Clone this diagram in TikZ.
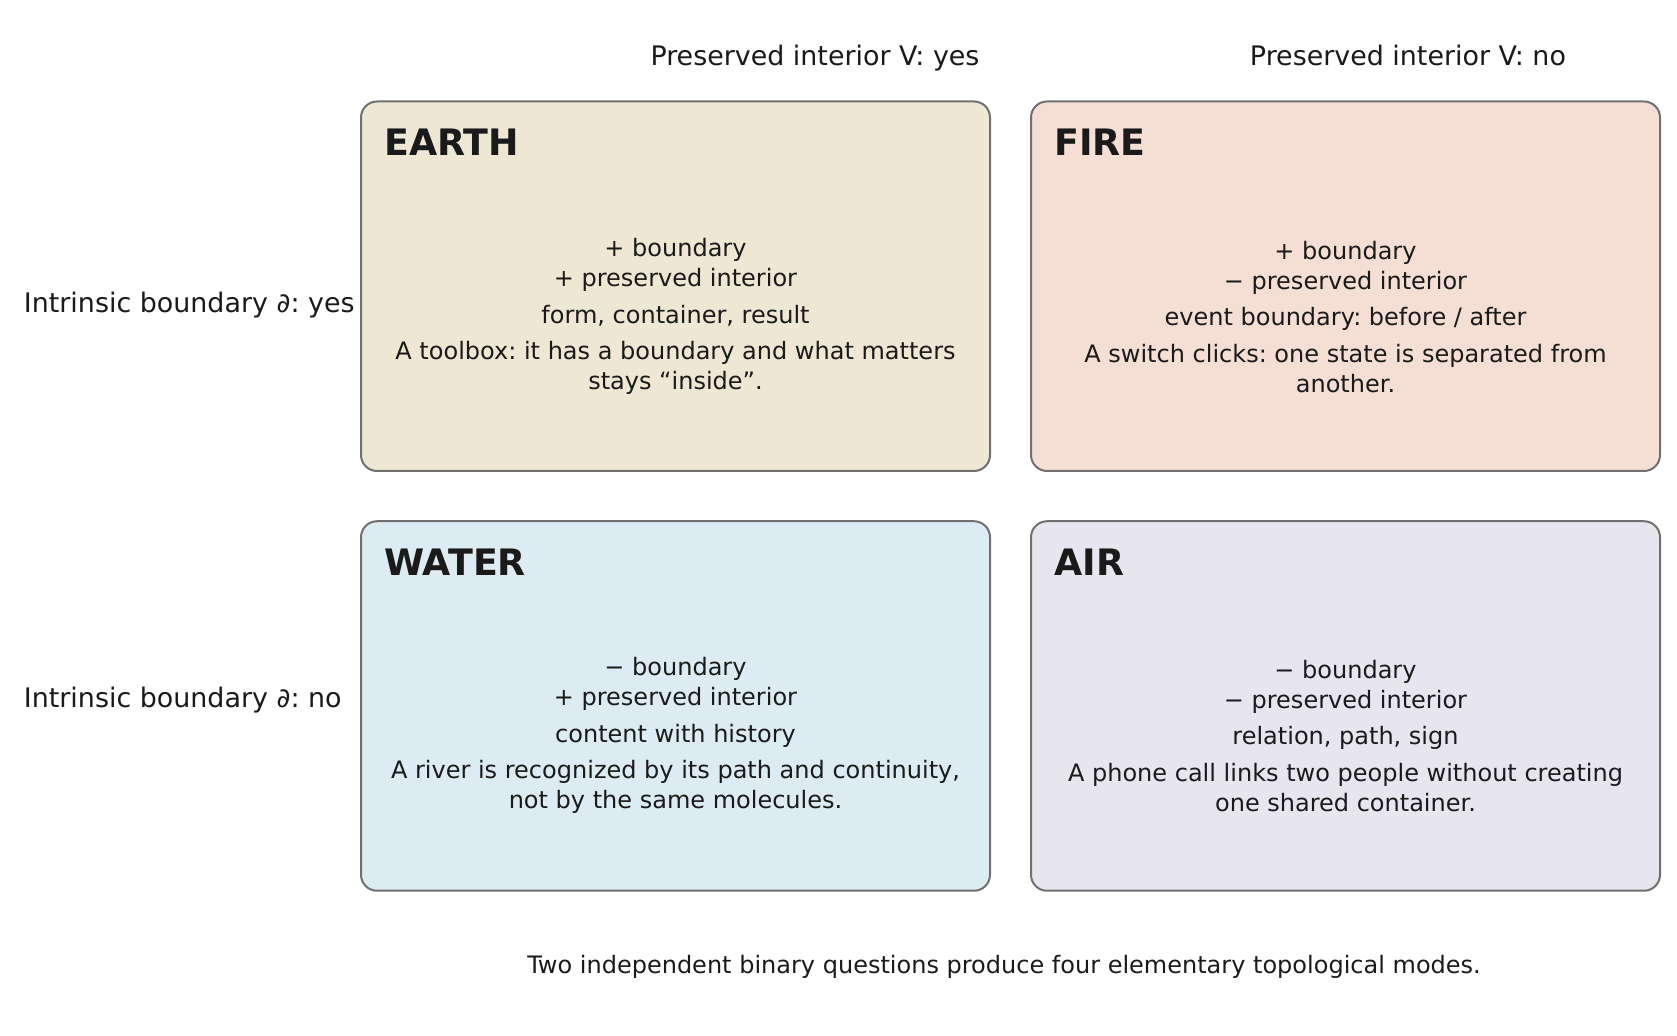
\documentclass[tikz,border=0pt]{standalone}
\usepackage{fontspec}
\setmainfont{DejaVu Sans}
\frenchspacing
\definecolor{ink}{HTML}{1A1A1A}
\definecolor{boxline}{HTML}{707070}
\definecolor{earthfill}{HTML}{EEE7D3}
\definecolor{firefill}{HTML}{F5DED4}
\definecolor{waterfill}{HTML}{DDEBF3}
\definecolor{airfill}{HTML}{E7E6EF}
\begin{document}
\begin{tikzpicture}[x=0.5pt,y=-0.5pt,
  quad/.style={draw=boxline, line width=1pt, rounded corners=8pt,
    minimum width=314.5pt, minimum height=184.75pt, inner sep=0pt, outer sep=0pt},
  ttl/.style={anchor=base west, inner sep=0pt, text=ink,
    font=\fontsize{18.2}{20}\selectfont\bfseries},
  body/.style={anchor=base, inner sep=0pt, text=ink,
    font=\fontsize{12}{14}\selectfont},
  head/.style={anchor=base, inner sep=0pt, text=ink,
    font=\fontsize{13.45}{16}\selectfont},
  rowlbl/.style={anchor=base west, inner sep=0pt, text=ink,
    font=\fontsize{13.45}{16}\selectfont}]
\useasboundingbox (0,0) rectangle (1677,1036);

% headers
\node[head] (hyes) at (815,65.5) {Preserved interior V: yes};
\node[head] (hno) at (1408,65.5) {Preserved interior V: no};

% row labels
\node[rowlbl] (ryes) at (23.5,313) {Intrinsic boundary ∂: yes};
\node[rowlbl] (rno) at (23.5,708) {Intrinsic boundary ∂: no};

% boxes
\node[quad, fill=earthfill] (earth) at (675.5,286.25) {};
\node[quad, fill=firefill] (fire) at (1345.5,286.25) {};
\node[quad, fill=waterfill] (water) at (675.5,706) {};
\node[quad, fill=airfill] (air) at (1345.5,706) {};

% titles
\node[ttl] (tearth) at (384,156) {EARTH};
\node[ttl] (tfire) at (1054,156) {FIRE};
\node[ttl] (twater) at (384,575.5) {WATER};
\node[ttl] (tair) at (1054,575.5) {AIR};

% EARTH
\node[body] (e1) at (675.5,257) {+ boundary};
\node[body] (e2) at (675.5,287) {+ preserved interior};
\node[body] (e3) at (675.5,323.5) {form, container, result};
\node[body] (e4) at (675.5,360) {A toolbox: it has a boundary and what matters};
\node[body] (e5) at (675.5,390) {stays “inside”.};

% FIRE
\node[body] (f1) at (1345.5,259.5) {+ boundary};
\node[body] (f2) at (1345.5,289.5) {− preserved interior};
\node[body] (f3) at (1345.5,326) {event boundary: before / after};
\node[body] (f4) at (1345.5,362.5) {A switch clicks: one state is separated from};
\node[body] (f5) at (1345.5,392.5) {another.};

% WATER
\node[body] (w1) at (675.5,676) {− boundary};
\node[body] (w2) at (675.5,706) {+ preserved interior};
\node[body] (w3) at (675.5,742.5) {content with history};
\node[body] (w4) at (675.5,779) {A river is recognized by its path and continuity,};
\node[body] (w5) at (675.5,809) {not by the same molecules.};

% AIR
\node[body] (a1) at (1345.5,678.5) {− boundary};
\node[body] (a2) at (1345.5,708.5) {− preserved interior};
\node[body] (a3) at (1345.5,745) {relation, path, sign};
\node[body] (a4) at (1345.5,781.5) {A phone call links two people without creating};
\node[body] (a5) at (1345.5,811.5) {one shared container.};

% footer
\node[body] (foot) at (1004,973.8) {Two independent binary questions produce four elementary topological modes.};
\end{tikzpicture}
\end{document}
